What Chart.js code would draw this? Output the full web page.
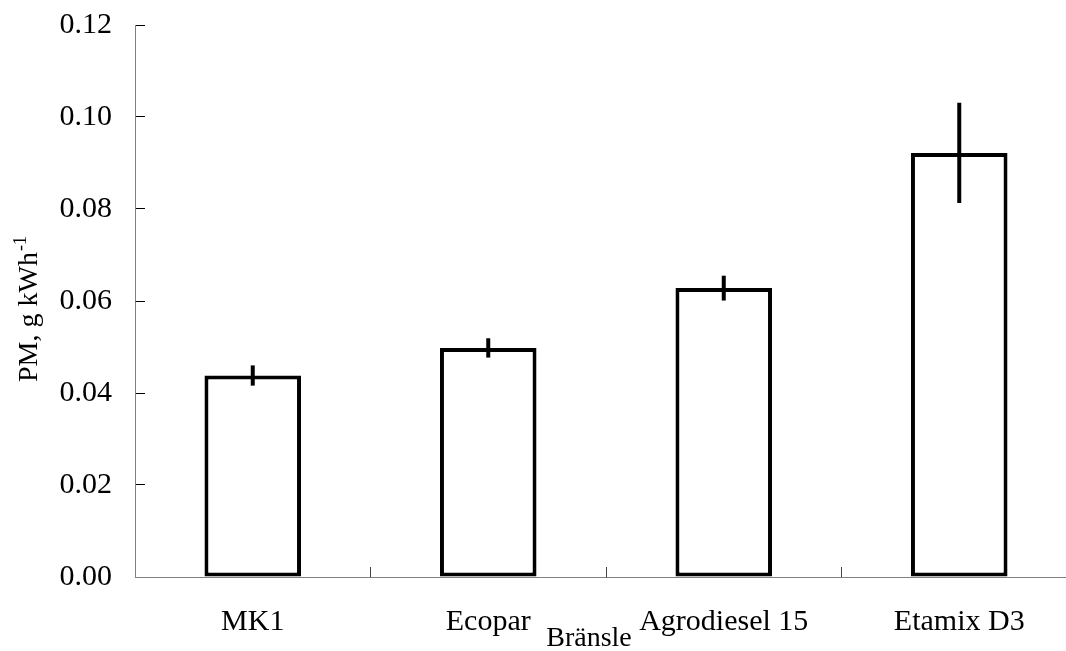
<!DOCTYPE html>
<html>
<head>
<meta charset="utf-8">
<script src="https://cdn.jsdelivr.net/npm/chart.js@4.4.0/dist/chart.umd.min.js"></script>
<style>
  html, body { margin: 0; padding: 0; background: #fff; overflow: hidden; }
  #wrap { width: 1100px; height: 651px; }
</style>
</head>
<body>
<div id="wrap"><canvas id="myChart" width="1100" height="651"></canvas></div>
<script>
var categories = ["MK1", "Ecopar", "Agrodiesel 15", "Etamix D3"];
var pmValues = [0.0438, 0.0498, 0.0628, 0.0922];
var pmErrors = [0.0022, 0.0021, 0.0027, 0.0109];
var yTicks = [0, 0.02, 0.04, 0.06, 0.08, 0.10, 0.12];
var yTitle = "PM, g kWh";
var yTitleSup = "-1";
var xTitle = "Bränsle";

var serif = "'Liberation Serif', 'Times New Roman', serif";

// error bars drawn over the bars, using the y scale
var errorBars = {
    id: "errorBars",
    afterDatasetsDraw: function (chart) {
        var ctx = chart.ctx;
        var y = chart.scales.y;
        var meta = chart.getDatasetMeta(0);
        ctx.save();
        ctx.strokeStyle = "#000";
        ctx.lineWidth = 4;
        ctx.lineCap = "butt";
        meta.data.forEach(function (bar, i) {
            ctx.beginPath();
            ctx.moveTo(bar.x, y.getPixelForValue(pmValues[i] + pmErrors[i]));
            ctx.lineTo(bar.x, y.getPixelForValue(pmValues[i] - pmErrors[i]));
            ctx.stroke();
        });
        ctx.restore();
    }
};

// axis titles (y title has a superscript)
var axisTitles = {
    id: "axisTitles",
    afterDraw: function (chart) {
        var ctx = chart.ctx;
        var area = chart.chartArea;
        ctx.save();
        ctx.fillStyle = "#000";
        ctx.textBaseline = "alphabetic";

        ctx.save();
        ctx.translate(area.left - 98, area.bottom - 195);
        ctx.rotate(-Math.PI / 2);
        ctx.textAlign = "left";
        ctx.font = "28px " + serif;
        ctx.fillText(yTitle, 0, 0);
        var w = ctx.measureText(yTitle).width;
        ctx.font = "18px " + serif;
        ctx.fillText(yTitleSup, w + 1, -11);
        ctx.restore();

        ctx.textAlign = "center";
        ctx.font = "28px " + serif;
        ctx.fillText(xTitle, area.left + 454, 646);
        ctx.restore();
    }
};

var ctx = document.getElementById("myChart").getContext("2d");
var myChart = new Chart(ctx, {
    type: "bar",
    data: {
        labels: categories,
        datasets: [{
            label: "PM",
            data: pmValues,
            backgroundColor: "#fff",
            borderColor: "#000",
            borderWidth: 4,
            borderSkipped: false,
            categoryPercentage: 1,
            barPercentage: 0.41
        }]
    },
    options: {
        responsive: false,
        animation: false,
        layout: { padding: { top: 25, right: 23, bottom: 0, left: 0 } },
        plugins: {
            legend: { display: false },
            tooltip: { enabled: false }
        },
        scales: {
            x: {
                grid: { display: true, drawOnChartArea: false, tickLength: -10, color: "#444", offset: true },
                border: { display: true, color: "#808080", width: 1 },
                ticks: {
                    color: "#000",
                    font: { family: serif, size: 30 },
                    padding: 37,
                    maxRotation: 0,
                    autoSkip: false
                },
                afterFit: function (s) {
                    s.height = 74;
                    s.paddingLeft = 0;
                    s.paddingRight = 0;
                }
            },
            y: {
                min: 0,
                max: 0.12,
                grid: { display: true, drawOnChartArea: false, tickLength: -10, color: "#000" },
                border: { display: true, color: "#808080", width: 1 },
                afterBuildTicks: function (s) {
                    s.ticks = yTicks.map(function (v) { return { value: v }; });
                },
                ticks: {
                    color: "#000",
                    font: { family: serif, size: 30 },
                    padding: 33,
                    callback: function (v) { return Number(v).toFixed(2); }
                },
                afterFit: function (s) {
                    s.width = 135;
                    s.paddingTop = 0;
                    s.paddingBottom = 0;
                }
            }
        }
    },
    plugins: [errorBars, axisTitles]
});
</script>
</body>
</html>
